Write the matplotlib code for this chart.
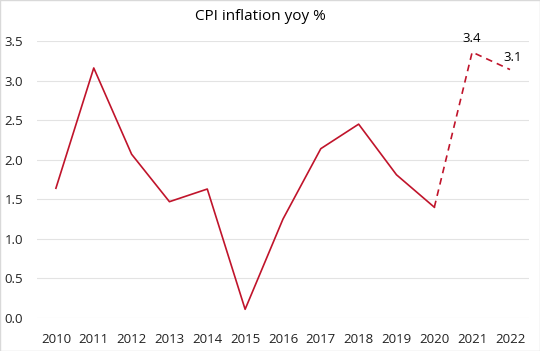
import matplotlib
matplotlib.use("Agg")
import matplotlib.pyplot as plt

years = ['2010', '2011', '2012', '2013', '2014', '2015', '2016',
         '2017', '2018', '2019', '2020', '2021', '2022']
cpi = [1.64, 3.16, 2.07, 1.47, 1.63, 0.11, 1.25, 2.14, 2.45, 1.81, 1.40, 3.36, 3.14]
n_actual = 11  # 2010-2020 actual, rest forecast
label_idx = [11, 12]
label_txt = ['3.4', '3.1']

plt.rcParams['font.family'] = ['Open Sans', 'DejaVu Sans']

fig = plt.figure(figsize=(5.4, 3.51), dpi=100)
ax = fig.add_axes([0.0685, 0.094, 0.911, 0.789])

x = list(range(len(years)))
red = '#C0142B'
ax.plot(x[:n_actual], cpi[:n_actual], color=red, lw=1.2)
ax.plot(x[n_actual - 1:], cpi[n_actual - 1:], color=red, lw=1.2, ls=(0, (4, 3)))

ax.annotate(label_txt[0], (x[label_idx[0]], cpi[label_idx[0]]), xytext=(0, 5),
            textcoords='offset points', ha='center', va='bottom', fontsize=9.5)
ax.annotate(label_txt[1], (x[label_idx[1]], cpi[label_idx[1]]), xytext=(2, 4),
            textcoords='offset points', ha='center', va='bottom', fontsize=9.5)

ax.set_xlim(-0.5, len(years) - 0.5)
ax.set_ylim(0, 3.5)
ax.set_yticks([0, 0.5, 1.0, 1.5, 2.0, 2.5, 3.0, 3.5])
ax.set_yticklabels(['%.1f' % v for v in ax.get_yticks()])
ax.set_xticks(x)
ax.set_xticklabels(years)
ax.tick_params(length=0, labelsize=9.5, colors='#222222')
ax.tick_params(axis='y', pad=10)
ax.tick_params(axis='x', pad=11)
ax.grid(axis='y', color='#E3E3E3', lw=0.8)
ax.set_axisbelow(True)
for s in ax.spines.values():
    s.set_visible(False)

fig.text(0.482, 0.952, 'CPI inflation yoy %', ha='center', va='center', fontsize=11)

border = plt.Rectangle((0, 0), 1, 1, transform=fig.transFigure, fill=False,
                       ec='#D9D9D9', lw=1)
fig.patches.append(border)

fig.savefig('out.png', dpi=100)
